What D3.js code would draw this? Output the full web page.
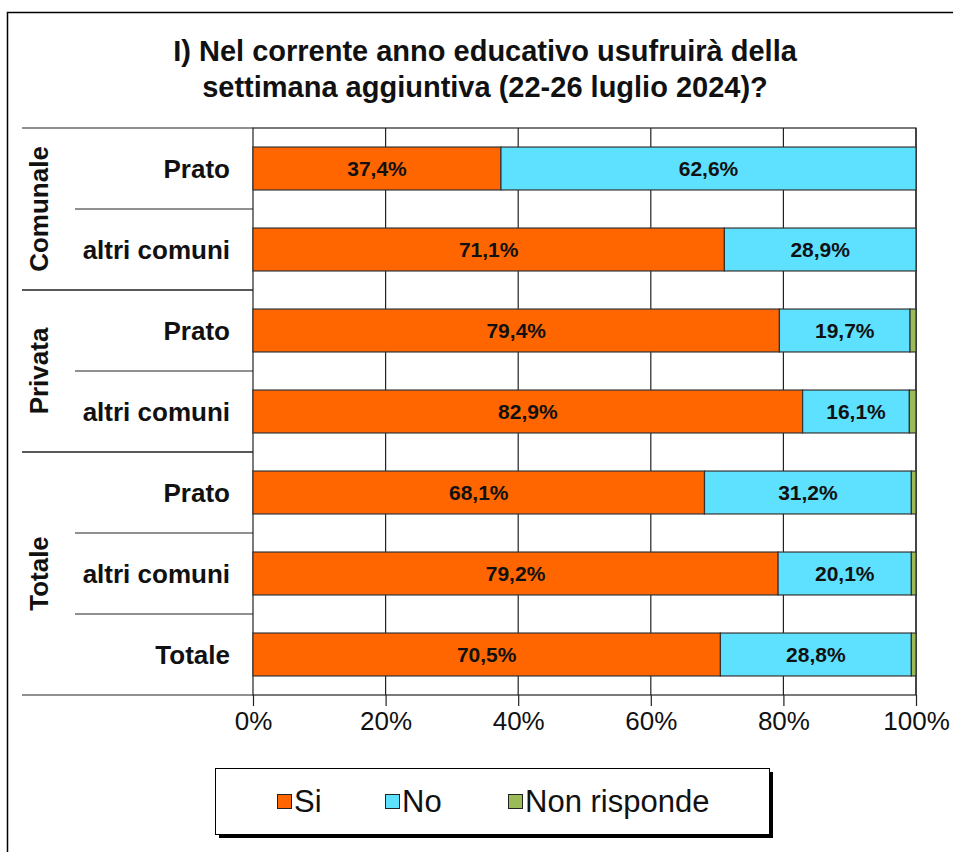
<!DOCTYPE html>
<html>
<head>
<meta charset="utf-8">
<script src="https://cdn.jsdelivr.net/npm/d3@7"></script>
<style>
  body { margin: 0; background: #fff; }
  svg text { font-family: "Liberation Sans", Arial, sans-serif; }
</style>
</head>
<body>
<svg id="chart" width="953" height="852"></svg>
<script>
// data
var titleLines = ["I) Nel corrente anno educativo usufruirà della", "settimana aggiuntiva (22-26 luglio 2024)?"];
var rows = ["Comunale|Prato", "Comunale|altri comuni", "Privata|Prato", "Privata|altri comuni",
            "Totale|Prato", "Totale|altri comuni", "Totale|Totale"];
var rowLabels = ["Prato", "altri comuni", "Prato", "altri comuni", "Prato", "altri comuni", "Totale"];
var groups = ["Comunale", "Privata", "Totale"];
var groupSizes = [2, 2, 3];
var seriesNames = ["Si", "No", "Non risponde"];
var si = [37.4, 71.1, 79.4, 82.9, 68.1, 79.2, 70.5];
var no = [62.6, 28.9, 19.7, 16.1, 31.2, 20.1, 28.8];
var nonRisponde = [0.0, 0.0, 0.9, 1.0, 0.7, 0.7, 0.7];
var colors = ["#ff6600", "#5ee0ff", "#9bbb59"];
var ticks = [0, 20, 40, 60, 80, 100];

var svg = d3.select("#chart");

// outer frame
svg.append("rect").attr("x", 7.5).attr("y", 12.5).attr("width", 960).attr("height", 860)
    .attr("fill", "none").attr("stroke", "#000").attr("stroke-width", 1.5);

// title
svg.append("text").attr("x", 485).attr("y", 61).attr("text-anchor", "middle")
    .style("font-size", "29px").style("font-weight", "bold").attr("fill", "#111")
    .selectAll("tspan").data(titleLines).enter().append("tspan")
    .attr("x", 485).attr("dy", function (d, i) { return i ? 36 : 0; })
    .text(function (d) { return d; });

var x = d3.scaleLinear().domain([0, 100]).range([253, 916]);
var y = d3.scaleBand().domain(rows).range([128, 695]).paddingInner(0.47).paddingOuter(0.235);
var step = y.step();

// stacked data
var table = rows.map(function (r, i) { return { row: r, Si: si[i], No: no[i], "Non risponde": nonRisponde[i] }; });
var stacked = d3.stack().keys(seriesNames)(table);

// plot area border
svg.append("rect").attr("x", x(0)).attr("y", 128).attr("width", x(100) - x(0)).attr("height", 695 - 128)
    .attr("fill", "#fff").attr("stroke", "#222").attr("stroke-width", 1.2);

// vertical grid
svg.append("g").selectAll("line").data(ticks.slice(1)).enter().append("line")
    .attr("x1", function (d) { return x(d); }).attr("x2", function (d) { return x(d); })
    .attr("y1", 128).attr("y2", 695).attr("stroke", "#222").attr("stroke-width", 1.2);

// bars
var layer = svg.append("g").selectAll("g").data(stacked).enter().append("g")
    .attr("fill", function (d, i) { return colors[i]; });
layer.selectAll("rect").data(function (d) { return d; }).enter().append("rect")
    .filter(function (d) { return d[1] - d[0] > 0; })
    .attr("x", function (d) { return x(d[0]); })
    .attr("y", function (d) { return y(d.data.row); })
    .attr("width", function (d) { return x(d[1]) - x(d[0]); })
    .attr("height", y.bandwidth())
    .attr("stroke", "#333").attr("stroke-width", 1.2);

// value labels (Si and No)
stacked.slice(0, 2).forEach(function (s) {
  svg.append("g").selectAll("text").data(s).enter().append("text")
      .attr("x", function (d) { return (x(d[0]) + x(d[1])) / 2; })
      .attr("y", function (d) { return y(d.data.row) + y.bandwidth() / 2 + 7.5; })
      .attr("text-anchor", "middle")
      .style("font-size", "21px").style("font-weight", "bold").attr("fill", "#111")
      .text(function (d) { return (d[1] - d[0]).toFixed(1).replace(".", ",") + "%"; });
});

// left category labels
svg.append("g").selectAll("text").data(rows).enter().append("text")
    .attr("x", 230).attr("y", function (d) { return y(d) + y.bandwidth() / 2 + 9; })
    .attr("text-anchor", "end").style("font-size", "26px").style("font-weight", "bold").attr("fill", "#111")
    .text(function (d, i) { return rowLabels[i]; });

// separators in the category area
var bounds = [];
var acc = 0;
groupSizes.forEach(function (n, g) {
  for (var k = 0; k <= n; k++) {
    var yy = 128 + (acc + k) * step;
    var isGroupEdge = (k === 0 || k === n);
    bounds.push({ y: yy, x1: isGroupEdge ? 22 : 75 });
  }
  var mid = 128 + (acc + n / 2) * step;
  svg.append("text").attr("transform", "translate(48," + mid + ") rotate(-90)")
      .attr("text-anchor", "middle").style("font-size", "26px").style("font-weight", "bold").attr("fill", "#111")
      .text(groups[g]);
  acc += n;
});
svg.append("g").selectAll("line").data(bounds).enter().append("line")
    .attr("x1", function (d) { return d.x1; }).attr("x2", x(0))
    .attr("y1", function (d) { return d.y; }).attr("y2", function (d) { return d.y; })
    .attr("stroke", "#222").attr("stroke-width", 1.2);

// x axis
var xAxis = d3.axisBottom(x).tickValues(ticks).tickSize(11).tickPadding(6)
    .tickFormat(function (d) { return d + "%"; });
var ax = svg.append("g").attr("transform", "translate(0,695)").call(xAxis);
ax.select(".domain").remove();
ax.selectAll("line").attr("stroke", "#222").attr("stroke-width", 1.2);
ax.selectAll("text").style("font-size", "26px").attr("fill", "#111");

// legend
var lg = svg.append("g").attr("transform", "translate(215,768)");
lg.append("rect").attr("x", 4).attr("y", 4).attr("width", 554).attr("height", 66).attr("fill", "#000");
lg.append("rect").attr("x", 0.5).attr("y", 0.5).attr("width", 554).attr("height", 66)
    .attr("fill", "#fff").attr("stroke", "#000");
var legendX = [62, 170, 293];
var items = lg.selectAll("g.item").data(seriesNames).enter().append("g")
    .attr("transform", function (d, i) { return "translate(" + legendX[i] + ",0)"; });
items.append("rect").attr("x", 0.5).attr("y", 26.5).attr("width", 14).attr("height", 14)
    .attr("fill", function (d, i) { return colors[i]; }).attr("stroke", "#222");
items.append("text").attr("x", 17).attr("y", 44).style("font-size", "31px").attr("fill", "#111")
    .text(function (d) { return d; });
</script>
</body>
</html>
